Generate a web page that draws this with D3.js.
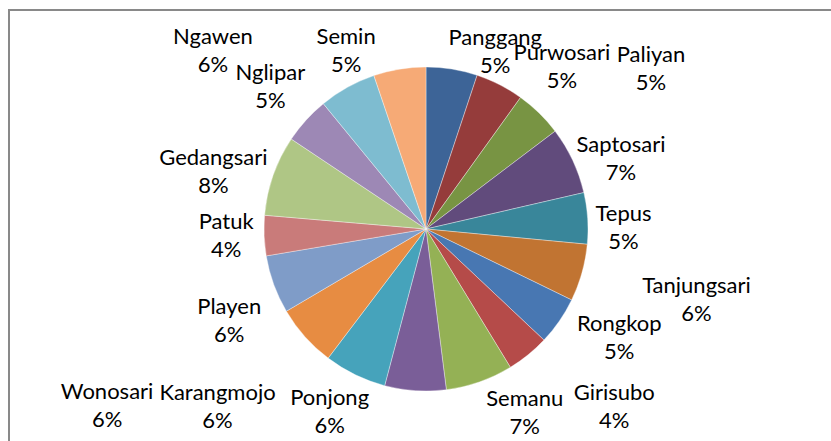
<!DOCTYPE html>
<meta charset="utf-8">
<style>
    body { margin: 0; background: #fff; }
    .lbl text {
        font: 22px "Lato", sans-serif;
        text-anchor: middle;
        fill: #000;
    }
</style>
<svg width="831" height="441"></svg>
<script src="https://d3js.org/d3.v7.min.js"></script>
<script>

    var districts = ["Panggang", "Purwosari", "Paliyan", "Saptosari", "Tepus", "Tanjungsari",
        "Rongkop", "Girisubo", "Semanu", "Ponjong", "Karangmojo", "Wonosari",
        "Playen", "Patuk", "Gedangsari", "Nglipar", "Ngawen", "Semin"];

    // share of each kecamatan (%)
    var shares = [5.1, 4.8, 4.75, 6.7, 5.1, 5.7, 4.8, 4.25, 6.7, 6.1, 6.2, 6.2,
        5.8, 4.0, 8.0, 4.7, 5.7, 5.2];

    var colors = ["#3d6497", "#953c3b", "#789443", "#614b7c", "#39869a", "#c17432",
        "#4877b2", "#b54b49", "#94b155", "#7a5e98", "#46a3bb", "#e78c42",
        "#7f9cc8", "#c97b7a", "#afc685", "#9d88b5", "#7ebcd0", "#f6aa76"];

    // label nudges, Excel pushes labels around to avoid overlaps
    var nudge = [[37, 21], [44, 17], [84, -16], [12, 15], [-4, 11], [76, 15],
        [27, -7], [61, 20], [32, -8], [-83, -20], [-120, -5], [-168, 42],
        [-7, 22], [2, -2], [-22, 9], [-6, -7], [-115, -2], [-47, 20]];

    var svg = d3.select("svg"),
        cx = 426, cy = 229, radius = 162;

    // frame
    svg.append("path")
        .attr("d", "M9,441V10H831")
        .attr("fill", "none")
        .attr("stroke", "#898989")
        .attr("stroke-width", 2);

    var g = svg.append("g").attr("transform", "translate(" + cx + "," + cy + ")");

    var data = districts.map(function(d, i) { return {name: d, value: shares[i], i: i}; });
    var total = d3.sum(shares);

    var pie = d3.pie().sort(null).value(function(d) { return d.value; });
    var path = d3.arc().outerRadius(radius).innerRadius(0);
    var label = d3.arc().outerRadius(radius + 40).innerRadius(radius + 40);

    var arcs = pie(data);

    g.selectAll(".slice")
        .data(arcs)
        .enter().append("path")
        .attr("class", "slice")
        .attr("d", path)
        .attr("fill", function(d) { return colors[d.data.i]; })
        .attr("stroke", "rgba(255,255,255,0.6)")
        .attr("stroke-width", 0.6);

    var lbl = g.selectAll(".lbl")
        .data(arcs)
        .enter().append("g")
        .attr("class", "lbl")
        .attr("transform", function(d) {
            var c = label.centroid(d), n = nudge[d.data.i];
            return "translate(" + (c[0] + n[0]) + "," + (c[1] + n[1]) + ")";
        });

    lbl.append("text")
        .attr("y", -6)
        .text(function(d) { return d.data.name; });

    lbl.append("text")
        .attr("y", 22)
        .text(function(d) { return Math.round(d.data.value / total * 100) + "%"; });
</script>
